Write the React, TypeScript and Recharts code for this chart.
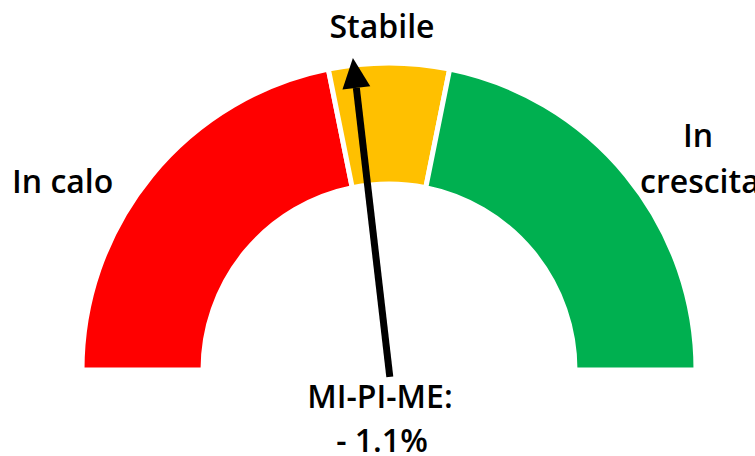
import React from "react";
import { PieChart, Pie, Cell } from "recharts";

// gauge bands (width on the -15..15 scale)
const bandNames = ["In calo", "Stabile", "In crescita"];
const bandSizes = [13.1, 3.8, 13.1];
const bandColors = ["#FF0000", "#FFC000", "#00B050"];

const scaleMin = -15;
const scaleMax = 15;
const needleValue = -1.1;
const needleLabel = ["MI-PI-ME:", "- 1.1%"];

const W = 755;
const H = 456;
const CX = 389;
const CY = 370;

const data = bandNames.map((name, i) => ({ name, value: bandSizes[i] }));

const font = "'Open Sans', sans-serif";

const Needle = () => {
  const angle = 180 - ((needleValue - scaleMin) / (scaleMax - scaleMin)) * 180;
  const rad = (angle * Math.PI) / 180;
  const dx = Math.cos(rad);
  const dy = -Math.sin(rad);
  const tipR = 314;
  const headLen = 30;
  const headHalf = 14;
  const bx = CX - 7 * dx;
  const by = CY - 7 * dy;
  const tx = CX + tipR * dx;
  const ty = CY + tipR * dy;
  const hx = CX + (tipR - headLen) * dx;
  const hy = CY + (tipR - headLen) * dy;
  // perpendicular
  const px = -dy;
  const py = dx;
  return (
    <g>
      <line x1={bx} y1={by} x2={hx} y2={hy} stroke="#000" strokeWidth={7} />
      <polygon
        points={`${tx},${ty} ${hx + px * headHalf},${hy + py * headHalf} ${hx - px * headHalf},${hy - py * headHalf}`}
        fill="#000"
      />
    </g>
  );
};

const Labels = () => {
  const style = { fontFamily: font, fontSize: 32, fontWeight: 600, fill: "#000" } as const;
  return (
    <g>
      <text x={382} y={38} textAnchor="middle" {...style}>{bandNames[1]}</text>
      <text x={12} y={193} {...style}>{bandNames[0]}</text>
      <text x={683} y={147} {...style}>{bandNames[2].split(" ")[0]}</text>
      <text x={640} y={193} {...style}>{bandNames[2].split(" ")[1]}</text>
      <text x={380} y={408} textAnchor="middle" {...style}>{needleLabel[0]}</text>
      <text x={382} y={452} textAnchor="middle" {...style}>{needleLabel[1]}</text>
    </g>
  );
};

export default function App() {
  return (
    <div style={{ position: "absolute", left: 0, top: 0, width: W, height: H, background: "#fff", overflow: "hidden" }}>
      <PieChart width={W} height={H} margin={{ top: 0, right: 0, bottom: 0, left: 0 }}>
        <Pie
          data={data}
          dataKey="value"
          cx={CX}
          cy={CY}
          startAngle={180}
          endAngle={0}
          innerRadius={186}
          outerRadius={307}
          stroke="#fff"
          strokeWidth={5}
          isAnimationActive={false}
        >
          {data.map((d, i) => (
            <Cell key={d.name} fill={bandColors[i]} />
          ))}
        </Pie>
      </PieChart>
      <svg
        width={W}
        height={H}
        style={{ position: "absolute", left: 0, top: 0, pointerEvents: "none" }}
      >
        <Needle />
        <Labels />
      </svg>
    </div>
  );
}
